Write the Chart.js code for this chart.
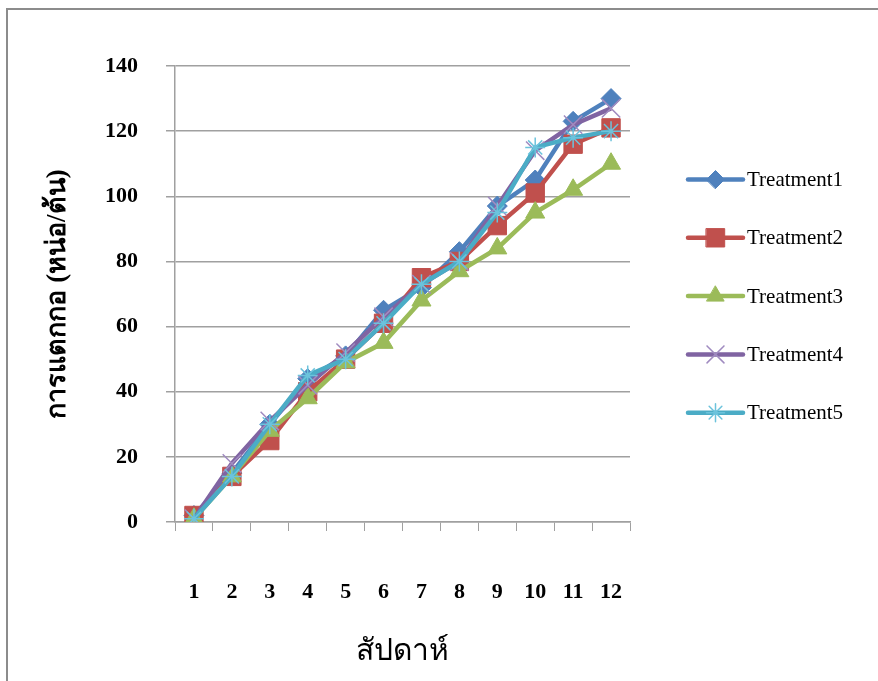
<!DOCTYPE html>
<html>
<head>
<meta charset="utf-8">
<script src="https://cdn.jsdelivr.net/npm/chart.js@4/dist/chart.umd.min.js"></script>
<style>
  body { margin: 0; background: #fff; }
  .frame { position: absolute; left: 6px; top: 8px; width: 900px; height: 700px; border: 2px solid #8c8c8c; }
  .wrap { position: absolute; left: 0; top: 0; width: 878px; height: 681px; }
</style>
</head>
<body>
<div class="frame"></div>
<div class="wrap"><canvas id="chart" width="878" height="681"></canvas></div>
<script>
// Weekly tillering per treatment
const weeks = ['1', '2', '3', '4', '5', '6', '7', '8', '9', '10', '11', '12'];
const treatment1 = [2, 15, 30, 44, 51, 65, 72, 83, 97, 105, 123, 130];
const treatment2 = [2, 14, 25, 40, 50, 61, 75, 80, 91, 101, 116, 121];
const treatment3 = [1, 14, 28, 38, 49, 55, 68, 77, 84, 95, 102, 110];
const treatment4 = [1, 18, 31, 42, 52, 63, 73, 80, 97, 114, 122, 127];
const treatment5 = [1, 14, 30, 45, 50, 61, 73, 80, 95, 115, 118, 120];
const yTicks = [0, 20, 40, 60, 80, 100, 120, 140];

const serif = "'Liberation Serif', 'Times New Roman', serif";
const gridGray = '#a0a0a0';

function series(label, data, color, style, radius, markColor, order) {
    return {
        label: label,
        data: data,
        borderColor: color,
        backgroundColor: color,
        borderWidth: 4.5,
        pointStyle: style,
        pointRadius: radius,
        pointBackgroundColor: markColor,
        pointBorderColor: markColor,
        pointBorderWidth: (style === 'crossRot' || style === 'star') ? 1.5 : 1,
        tension: 0,
        order: order
    };
}

// legend drawn on the right: short line with the marker, then the label
const sideLegend = {
    id: 'sideLegend',
    afterDraw(chart) {
        const ctx = chart.ctx;
        const x0 = 688, x1 = 743, top = 179.5, step = 58.3;
        chart.data.datasets.forEach((ds, i) => {
            const y = top + i * step;
            ctx.save();
            ctx.strokeStyle = ds.borderColor;
            ctx.lineWidth = 4.5;
            ctx.lineCap = 'round';
            ctx.beginPath();
            ctx.moveTo(x0, y);
            ctx.lineTo(x1, y);
            ctx.stroke();
            ctx.fillStyle = ds.pointBackgroundColor;
            ctx.strokeStyle = ds.pointBorderColor;
            ctx.lineWidth = ds.pointBorderWidth;
            Chart.helpers.drawPoint(ctx, {
                pointStyle: ds.pointStyle,
                radius: ds.pointStyle === 'rect' ? 13 : ds.pointRadius - 1,
                borderWidth: ds.pointBorderWidth,
                rotation: 0
            }, (x0 + x1) / 2, y);
            ctx.fillStyle = '#000';
            ctx.font = '21px ' + serif;
            ctx.textBaseline = 'middle';
            ctx.fillText(ds.label, 747, y + 1);
            ctx.restore();
        });
    }
};

new Chart(document.getElementById('chart'), {
    type: 'line',
    data: {
        labels: weeks,
        datasets: [
            series('Treatment1', treatment1, '#4F81BD', 'rectRot', 10, '#4F81BD', 5),
            series('Treatment2', treatment2, '#C0504D', 'rect', 13, '#C0504D', 4),
            series('Treatment3', treatment3, '#9BBB59', 'triangle', 11, '#9BBB59', 3),
            series('Treatment4', treatment4, '#8064A2', 'crossRot', 13, '#A08BC0', 2),
            series('Treatment5', treatment5, '#4BACC6', 'star', 10, '#6CC3DC', 1)
        ]
    },
    options: {
        responsive: false,
        animation: false,
        layout: { padding: { top: 66, right: 248, bottom: 0, left: 0 } },
        plugins: {
            legend: { display: false },
            tooltip: { enabled: false }
        },
        scales: {
            x: {
                offset: true,
                grid: { drawOnChartArea: false, drawTicks: true, tickLength: 9, color: gridGray, offset: true },
                border: { color: gridGray, width: 1.5 },
                ticks: { color: '#000', padding: 48, font: { family: serif, size: 22, weight: 'bold' } },
                title: {
                    display: true,
                    text: 'สัปดาห์',
                    color: '#000',
                    font: { family: serif, size: 30 },
                    padding: { top: 0, bottom: 11 }
                },
                afterFit(scale) { scale.height = 159; }
            },
            y: {
                min: 0,
                max: 140,
                afterBuildTicks(scale) { scale.ticks = yTicks.map(v => ({ value: v })); },
                grid: { color: gridGray, lineWidth: 1.5, tickLength: 9 },
                border: { color: gridGray, width: 1.5 },
                ticks: { color: '#000', padding: 28, font: { family: serif, size: 22, weight: 'bold' } },
                title: {
                    display: true,
                    text: 'การแตกกอ (หน่อ/ต้น)',
                    color: '#000',
                    font: { family: serif, size: 27, weight: 'bold' },
                    padding: { top: 42, bottom: 0 }
                },
                afterFit(scale) { scale.width = 175; }
            }
        }
    },
    plugins: [sideLegend]
});
</script>
</body>
</html>
